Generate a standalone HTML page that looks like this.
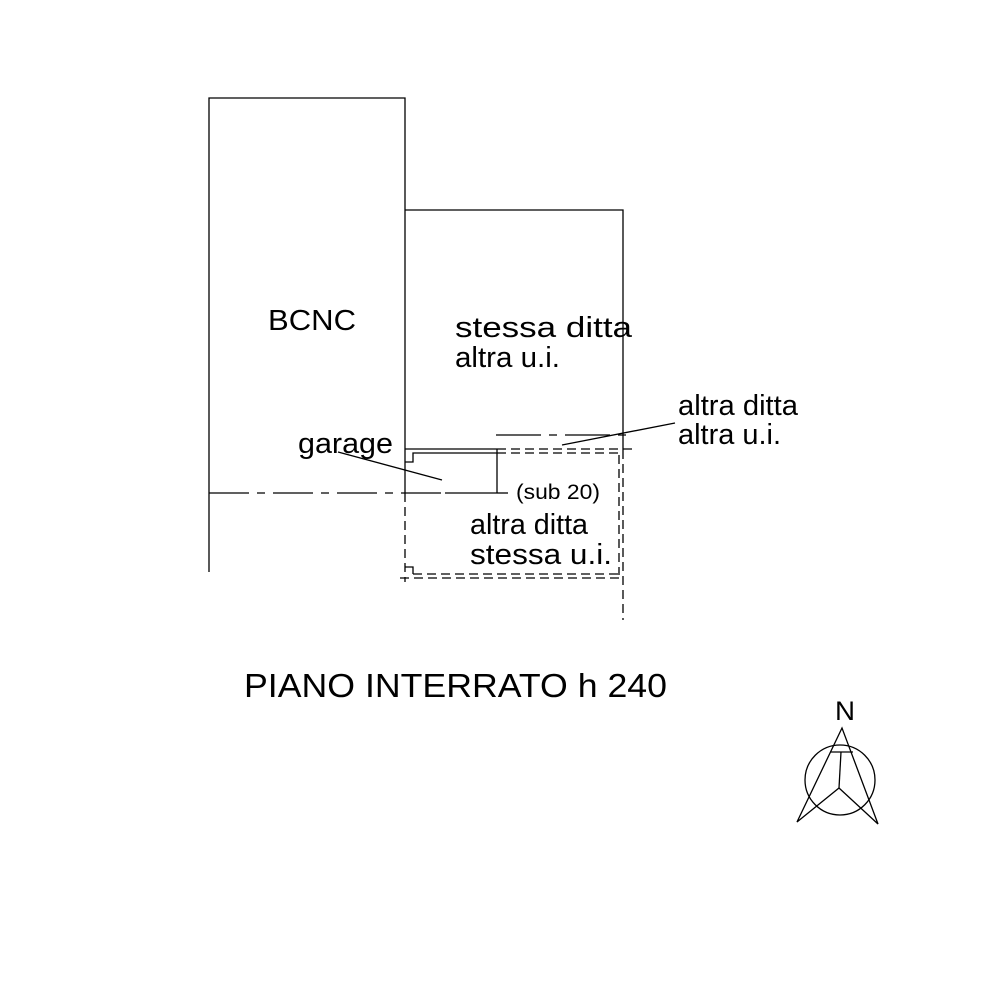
<!DOCTYPE html>
<html><head><style>body{margin:0;background:#fff}svg{display:block}</style></head><body>
<svg width="981" height="1000" viewBox="0 0 981 1000" xmlns="http://www.w3.org/2000/svg" font-family="Liberation Sans, Arial, sans-serif">
<rect width="981" height="1000" fill="#fff"/>
<g stroke="#000" stroke-width="1.3" fill="none">
<polyline points="209,572 209,98 405,98 405,493"/>
<polyline points="405,210 623,210 623,450"/>
<line x1="405" y1="449" x2="497" y2="449"/>
<line x1="497" y1="449" x2="497" y2="493"/>
<line x1="445" y1="493" x2="497" y2="493"/>
<line x1="209" y1="493" x2="445" y2="493" stroke-dasharray="40,8,8,8"/>
<line x1="497" y1="493" x2="508" y2="493"/>
<polyline points="405,462 413,462 413,453 497,453"/>
<line x1="405" y1="493" x2="405" y2="582" stroke-dasharray="9,5"/>
<line x1="623" y1="450" x2="623" y2="620" stroke-dasharray="9,5"/>
<line x1="497" y1="449" x2="633" y2="449" stroke-dasharray="9,5"/>
<line x1="497" y1="453" x2="620" y2="453" stroke-dasharray="9,5"/>
<line x1="619" y1="455" x2="619" y2="575" stroke-dasharray="9,5"/>
<line x1="400" y1="578" x2="623" y2="578" stroke-dasharray="9,5"/>
<line x1="413" y1="574" x2="619" y2="574" stroke-dasharray="9,5"/>
<polyline points="405,567 413,567 413,574"/>
<line x1="496" y1="435" x2="633" y2="435" stroke-dasharray="45,8,8,8"/>
<line x1="338" y1="452" x2="442" y2="480"/>
<line x1="562" y1="445" x2="675" y2="423"/>
<circle cx="840" cy="780" r="35"/>
<polygon points="842,728 797,822 839,788 878,824"/>
<line x1="841" y1="752" x2="839" y2="788"/>
<line x1="830" y1="752" x2="853" y2="752"/>
</g>
<g fill="#000" font-size="29">
<text x="268" y="330" textLength="88" lengthAdjust="spacingAndGlyphs">BCNC</text>
<text x="455" y="337" textLength="177" lengthAdjust="spacingAndGlyphs">stessa ditta</text>
<text x="455" y="367" textLength="105" lengthAdjust="spacingAndGlyphs">altra u.i.</text>
<text x="678" y="415" textLength="120" lengthAdjust="spacingAndGlyphs">altra ditta</text>
<text x="678" y="444" textLength="103" lengthAdjust="spacingAndGlyphs">altra u.i.</text>
<text x="298" y="453" textLength="95" lengthAdjust="spacingAndGlyphs">garage</text>
<text x="516" y="499" font-size="21" textLength="84" lengthAdjust="spacingAndGlyphs">(sub 20)</text>
<text x="470" y="534" textLength="118" lengthAdjust="spacingAndGlyphs">altra ditta</text>
<text x="470" y="564" textLength="142" lengthAdjust="spacingAndGlyphs">stessa u.i.</text>
<text x="244" y="697" font-size="33" textLength="423" lengthAdjust="spacingAndGlyphs">PIANO INTERRATO  h 240</text>
<text x="835" y="720" font-size="27" textLength="20" lengthAdjust="spacingAndGlyphs">N</text>
</g>
</svg>
</body></html>
